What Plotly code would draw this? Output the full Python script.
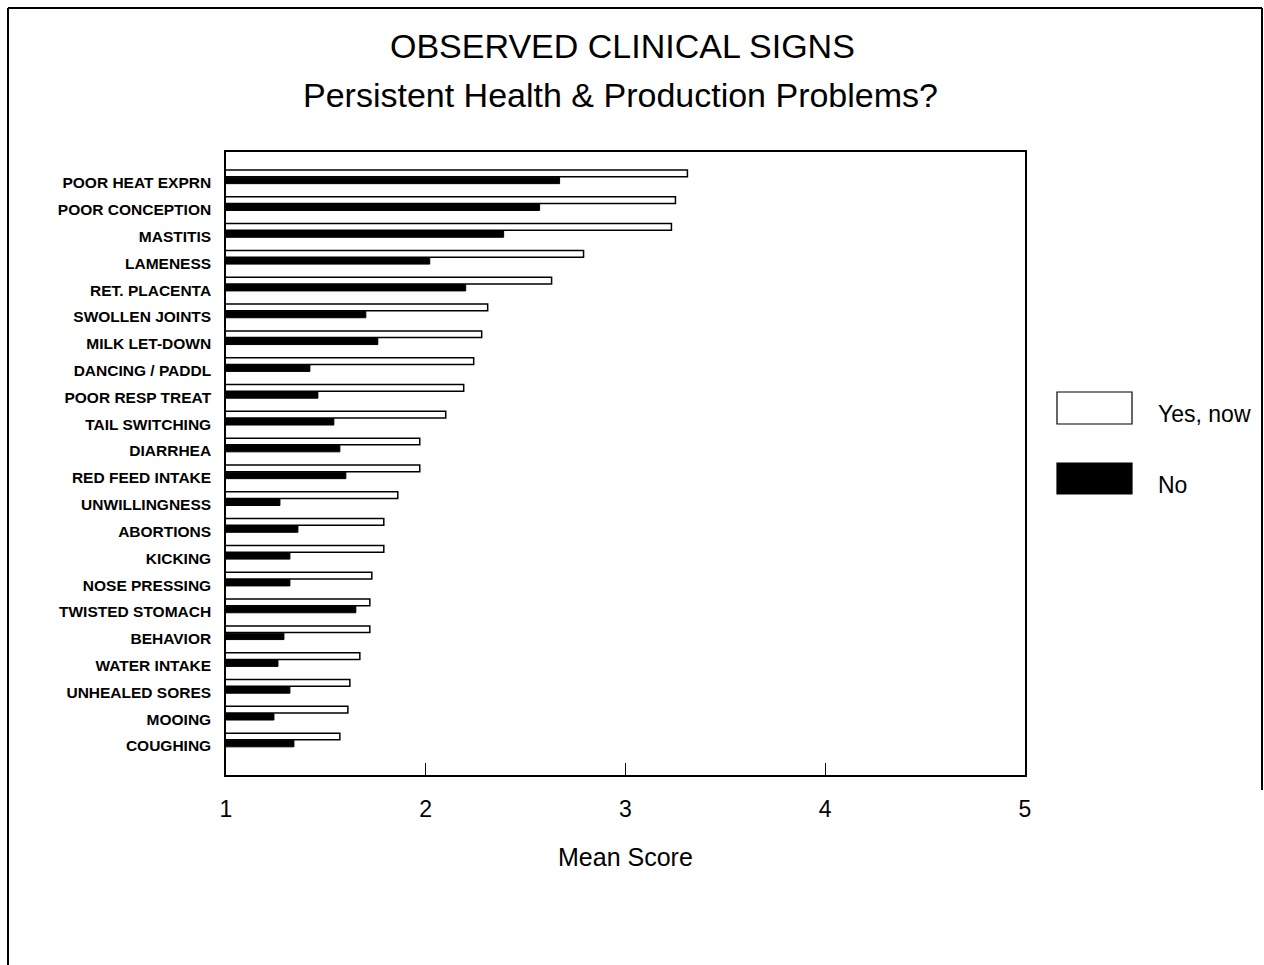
import plotly.graph_objects as go

# Clinical signs, listed top to bottom
signs = [
    "POOR HEAT EXPRN", "POOR CONCEPTION", "MASTITIS", "LAMENESS", "RET. PLACENTA",
    "SWOLLEN JOINTS", "MILK LET-DOWN", "DANCING / PADDL", "POOR RESP TREAT",
    "TAIL SWITCHING", "DIARRHEA", "RED FEED INTAKE", "UNWILLINGNESS", "ABORTIONS",
    "KICKING", "NOSE PRESSING", "TWISTED STOMACH", "BEHAVIOR", "WATER INTAKE",
    "UNHEALED SORES", "MOOING", "COUGHING",
]

# Mean scores for farms answering "Yes, now" to persistent problems
yes_now = [3.31, 3.25, 3.23, 2.79, 2.63, 2.31, 2.28, 2.24, 2.19, 2.10, 1.97,
           1.97, 1.86, 1.79, 1.79, 1.73, 1.72, 1.72, 1.67, 1.62, 1.61, 1.57]

# Mean scores for farms answering "No"
no = [2.67, 2.57, 2.39, 2.02, 2.20, 1.70, 1.76, 1.42, 1.46, 1.54, 1.57,
      1.60, 1.27, 1.36, 1.32, 1.32, 1.65, 1.29, 1.26, 1.32, 1.24, 1.34]

x_ticks = [1, 2, 3, 4, 5]

FONT = "Liberation Sans, Arial, sans-serif"

fig = go.Figure()
# white "Yes, now" bar sits above the category label, black "No" bar level with it
fig.add_trace(go.Bar(
    y=signs, x=yes_now, orientation="h", name="Yes, now",
    width=0.25, offset=-0.48,
    marker=dict(color="white", line=dict(color="black", width=1.5)),
    showlegend=False,
))
fig.add_trace(go.Bar(
    y=signs, x=no, orientation="h", name="No",
    width=0.24, offset=-0.21,
    marker=dict(color="black", line=dict(color="black", width=1)),
    showlegend=False,
))

# page geometry (pixels) used to place paper-referenced decorations
W, H = 1264, 965
L, R, T, B = 226, 1025, 152, 775


def px(xp):
    return (xp - L) / (R - L)


def py(yp):
    return (B - yp) / (B - T)


frame = dict(color="black", width=2)
shapes = [
    # outer frame: top, left and right edges
    dict(type="line", xref="paper", yref="paper",
         x0=px(8), x1=px(1262), y0=py(8), y1=py(8), line=frame),
    dict(type="line", xref="paper", yref="paper",
         x0=px(8), x1=px(8), y0=py(8), y1=py(1000), line=frame),
    dict(type="line", xref="paper", yref="paper",
         x0=px(1262), x1=px(1262), y0=py(8), y1=py(790), line=frame),
    # legend swatches
    dict(type="rect", xref="paper", yref="paper",
         x0=px(1057), x1=px(1132), y0=py(424), y1=py(392),
         line=dict(color="black", width=1.2), fillcolor="white"),
    dict(type="rect", xref="paper", yref="paper",
         x0=px(1057), x1=px(1132), y0=py(494), y1=py(463),
         line=dict(color="black", width=1.2), fillcolor="black"),
]

annotations = [
    dict(text="OBSERVED CLINICAL SIGNS", xref="paper", yref="paper",
         x=px(622), y=py(46), showarrow=False, xanchor="center", yanchor="middle",
         font=dict(family=FONT, size=34, color="black")),
    dict(text="Persistent Health & Production Problems?", xref="paper", yref="paper",
         x=px(620), y=py(95), showarrow=False, xanchor="center", yanchor="middle",
         font=dict(family=FONT, size=34, color="black")),
    dict(text="Mean Score", xref="paper", yref="paper",
         x=px(625), y=py(857), showarrow=False, xanchor="center", yanchor="middle",
         font=dict(family=FONT, size=25, color="black")),
    dict(text="Yes, now", xref="paper", yref="paper",
         x=px(1156), y=py(414), showarrow=False, xanchor="left", yanchor="middle",
         font=dict(family=FONT, size=23, color="black")),
    dict(text="No", xref="paper", yref="paper",
         x=px(1156), y=py(485), showarrow=False, xanchor="left", yanchor="middle",
         font=dict(family=FONT, size=23, color="black")),
]

n = len(signs)
fig.update_layout(
    width=W, height=H,
    margin=dict(l=L, r=W - R, t=T, b=H - B, autoexpand=False),
    paper_bgcolor="white", plot_bgcolor="white",
    barmode="overlay",
    font=dict(family=FONT, color="black"),
    shapes=shapes, annotations=annotations,
    xaxis=dict(
        range=[1, 5], tickvals=x_ticks, ticktext=[str(v) for v in x_ticks],
        showgrid=False, zeroline=False,
        showline=True, linecolor="black", linewidth=1.5, mirror=True,
        ticks="inside", ticklen=12, tickwidth=1, tickcolor="black",
        tickfont=dict(family=FONT, size=23, color="black"),
        ticklabelstandoff=13,
    ),
    yaxis=dict(
        categoryorder="array", categoryarray=signs,
        range=[n - 1 + 1.08, -1.15],
        showgrid=False, zeroline=False,
        showline=True, linecolor="black", linewidth=1.5, mirror=True,
        ticks="", tickfont=dict(family=FONT, size=15.5, color="black", weight="bold"),
        ticklabelstandoff=10,
    ),
)

fig.write_html("out.html")
